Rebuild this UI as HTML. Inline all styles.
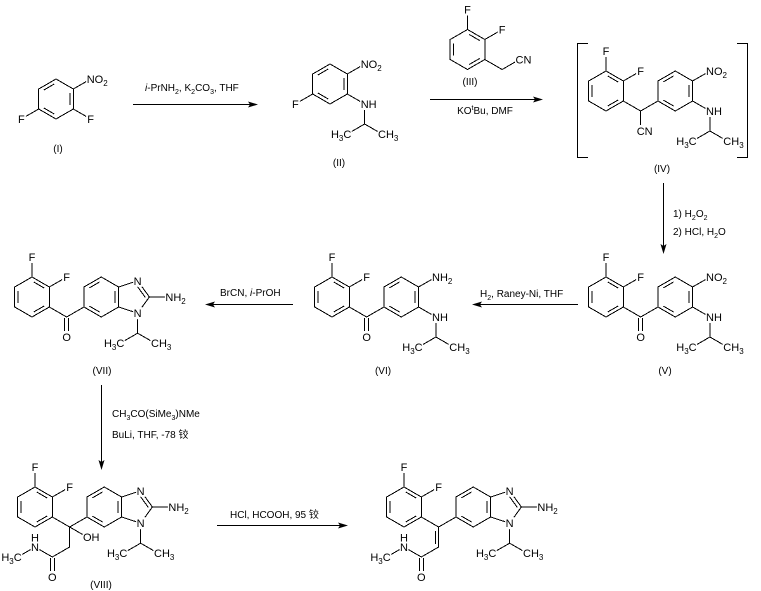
<!DOCTYPE html>
<html><head><meta charset="utf-8">
<style>
html,body{margin:0;padding:0;background:#fff;}
svg{display:block;}
.b{stroke:#000;stroke-width:1;fill:none;shape-rendering:crispEdges;}
.m{fill:#fff;stroke:none;}
.t{font-family:"Liberation Sans","Noto Sans CJK SC",sans-serif;font-size:11px;fill:#000;}
.r{font-family:"Liberation Sans","Noto Sans CJK SC",sans-serif;font-size:10px;fill:#000;}
.c{text-anchor:middle;}
.e{text-anchor:end;}
</style></head>
<body>
<svg width="761" height="591" viewBox="0 0 761 591" xmlns="http://www.w3.org/2000/svg" xmlns:xlink="http://www.w3.org/1999/xlink">
<rect width="761" height="591" fill="#fff"/>
<defs>
<g id="hA" class="b">
<polygon points="0,-20 17.32,-10 17.32,10 0,20 -17.32,10 -17.32,-10"/>
<path d="M-12.13,-9L-1.73,-15M13.86,-6L13.86,6M-1.73,15L-12.13,9"/>
</g>
<g id="hB" class="b">
<polygon points="0,-20 17.32,-10 17.32,10 0,20 -17.32,10 -17.32,-10"/>
<path d="M-13.86,-6L-13.86,6M1.73,-15L12.13,-9M12.13,9L1.73,15"/>
</g>
<g id="bz">
<use xlink:href="#hA"/>
<path class="b" d="M17.32,-10L36.34,-16.18L48.09,0L36.34,16.18L17.32,10M35.86,-10.88L44.08,0.44M48.09,0L68.09,0M36.34,16.18L36.34,36.18L19.02,46.18M36.34,36.18L53.66,46.18"/>
</g>
</defs>

<!-- rings -->
<use xlink:href="#hA" x="56" y="99"/>
<use xlink:href="#hA" x="330" y="84"/>
<use xlink:href="#hB" x="467.5" y="49.5"/>
<use xlink:href="#hB" x="606" y="91"/>
<use xlink:href="#hA" x="675.28" y="91"/>
<use xlink:href="#hB" x="606" y="297"/>
<use xlink:href="#hA" x="675.28" y="297"/>
<use xlink:href="#hB" x="332" y="297"/>
<use xlink:href="#hA" x="401.28" y="297"/>
<use xlink:href="#hB" x="32" y="297"/>
<use xlink:href="#bz" x="101.28" y="297"/>
<use xlink:href="#hB" x="35" y="507"/>
<use xlink:href="#bz" x="104.28" y="507"/>
<use xlink:href="#hB" x="404" y="507"/>
<use xlink:href="#bz" x="473.28" y="507"/>

<!-- bonds -->
<path class="b" d="
M73.32,89L90.64,79M73.32,109L90.64,119M38.68,109L21.36,119
M347.32,74L364.64,64M347.32,94L364.64,104M312.68,94L295.36,104M364.64,104L364.64,124L347.32,134M364.64,124L381.96,134
M467.5,29.5L467.5,9.5M484.82,39.5L502.14,29.5M484.82,59.5L502.14,69.5L519.46,59.5
M606,71L606,51M623.32,81L640.64,71M623.32,101L640.64,111L657.96,101M640.64,111L640.64,131
M692.6,81L709.92,71M692.6,101L709.92,111L709.92,131L692.6,141M709.92,131L727.24,141
M606,277L606,257M623.32,287L640.64,277M623.32,307L640.64,317L657.96,307M638.6,318L638.6,334M642.6,318L642.6,334
M692.6,287L709.92,277M692.6,307L709.92,317L709.92,337L692.6,347M709.92,337L727.24,347
M332,277L332,257M349.32,287L366.64,277M349.32,307L366.64,317L383.96,307M364.6,318L364.6,334M368.6,318L368.6,334
M418.6,287L435.92,277M418.6,307L435.92,317L435.92,337L418.6,347M435.92,337L453.24,347
M32,277L32,257M49.32,287L66.64,277M49.32,307L66.64,317L83.96,307M64.6,318L64.6,334M68.6,318L68.6,334
M35,487L35,467M52.32,497L69.64,487M52.32,517L69.64,527L86.96,517M69.64,527L86.96,537M69.64,527L69.64,547L52.32,557L35,547L17.68,557M50.3,558L50.3,574M54.3,558L54.3,574
M404,487L404,467M421.32,497L438.64,487M421.32,517L438.64,527L455.96,517M438.64,527L438.64,547M435.3,531L435.3,544M438.64,547L421.32,557L404,547L386.68,557M419.3,558L419.3,574M423.3,558L423.3,574
"/>

<!-- brackets -->
<path class="b" d="M588,43.5H577.5V157.5H588M737,43.5H747.5V157.5H737"/>

<!-- arrows -->
<path class="b" d="M133,104.5H250M430,99.5H535M663.5,183V246M480,304.5H578M213,304.5H293M101.5,385V462M217,525.5H340"/>
<polygon points="258,104.5 248,101.5 250,104.5 248,107.5" fill="#000"/>
<polygon points="543,99.5 533,96.5 535,99.5 533,102.5" fill="#000"/>
<polygon points="663.5,254 660.5,244 663.5,246 666.5,244" fill="#000"/>
<polygon points="472,304.5 482,301.5 480,304.5 482,307.5" fill="#000"/>
<polygon points="205,304.5 215,301.5 213,304.5 215,307.5" fill="#000"/>
<polygon points="101.5,470 98.5,460 101.5,462 104.5,460" fill="#000"/>
<polygon points="348,525.5 338,522.5 340,525.5 338,528.5" fill="#000"/>

<!-- label masks -->
<g class="m">
<rect x="86.1" y="73" width="23" height="13"/><rect x="86.1" y="113" width="9" height="12"/><rect x="16.9" y="113" width="9" height="12"/>
<rect x="360.1" y="58" width="23" height="13"/><rect x="360.1" y="98" width="17" height="12"/><rect x="290.9" y="98" width="9" height="12"/><rect x="331.3" y="128" width="20.5" height="13"/><rect x="377.5" y="128" width="20" height="13"/>
<rect x="463" y="3.5" width="9" height="12"/><rect x="497.6" y="23.5" width="9" height="12"/><rect x="515" y="53.5" width="17" height="12"/>
<rect x="601.5" y="45" width="9" height="12"/><rect x="636.1" y="65" width="9" height="12"/><rect x="636.1" y="125" width="17" height="12"/><rect x="705.4" y="65" width="23" height="13"/><rect x="705.4" y="105" width="17" height="12"/><rect x="676.6" y="135" width="20.5" height="13"/><rect x="722.7" y="135" width="20" height="13"/>
<rect x="601.5" y="251" width="9" height="12"/><rect x="636.1" y="271" width="9" height="12"/><rect x="636.1" y="331" width="9" height="12"/><rect x="705.4" y="271" width="23" height="13"/><rect x="705.4" y="311" width="17" height="12"/><rect x="676.6" y="341" width="20.5" height="13"/><rect x="722.7" y="341" width="20" height="13"/>
<rect x="327.5" y="251" width="9" height="12"/><rect x="362.1" y="271" width="9" height="12"/><rect x="362.1" y="331" width="9" height="12"/><rect x="431.4" y="271" width="21" height="13"/><rect x="431.4" y="311" width="17" height="12"/><rect x="402.6" y="341" width="20.5" height="13"/><rect x="448.7" y="341" width="20" height="13"/>
<rect x="27.5" y="251" width="9" height="12"/><rect x="62.1" y="271" width="9" height="12"/><rect x="62.1" y="331" width="9" height="12"/><rect x="133.1" y="274.8" width="9" height="12"/><rect x="133.1" y="307.2" width="9" height="12"/><rect x="164.9" y="291" width="21" height="13"/><rect x="104.3" y="337.2" width="20.5" height="13"/><rect x="150.4" y="337.2" width="20" height="13"/>
<rect x="30.5" y="461" width="9" height="12"/><rect x="65.1" y="481" width="9" height="12"/><rect x="82.5" y="531" width="17" height="12"/><rect x="30.5" y="533" width="9" height="20"/><rect x="47.8" y="571" width="9" height="12"/><rect x="1.7" y="551" width="20.5" height="13"/><rect x="136.1" y="484.8" width="9" height="12"/><rect x="136.1" y="517.2" width="9" height="12"/><rect x="167.9" y="501" width="21" height="13"/><rect x="107.3" y="547.2" width="20.5" height="13"/><rect x="153.4" y="547.2" width="20" height="13"/>
<rect x="399.5" y="461" width="9" height="12"/><rect x="434.1" y="481" width="9" height="12"/><rect x="416.8" y="571" width="9" height="12"/><rect x="399.5" y="533" width="9" height="20"/><rect x="370.7" y="551" width="20.5" height="13"/><rect x="505.1" y="484.8" width="9" height="12"/><rect x="505.1" y="517.2" width="9" height="12"/><rect x="536.9" y="501" width="21" height="13"/><rect x="476.3" y="547.2" width="20.5" height="13"/><rect x="522.4" y="547.2" width="20" height="13"/>
</g>

<!-- atom labels -->
<g class="t">
<text x="86.7" y="83">NO<tspan dy="3" font-size="8">2</tspan></text>
<text class="c" x="90.64" y="123">F</text>
<text class="c" x="21.36" y="123">F</text>
<text x="360.7" y="68">NO<tspan dy="3" font-size="8">2</tspan></text>
<text x="360.7" y="108">NH</text>
<text class="c" x="295.36" y="108">F</text>
<text class="e" x="351.3" y="138">H<tspan dy="3" font-size="8">3</tspan><tspan dy="-3">C</tspan></text>
<text x="378" y="138">CH<tspan dy="3" font-size="8">3</tspan></text>
<text class="c" x="467.5" y="13.5">F</text>
<text class="c" x="502.14" y="33.5">F</text>
<text x="515.5" y="63.5">CN</text>
<text class="c" x="606" y="55">F</text>
<text class="c" x="640.64" y="75">F</text>
<text x="636.7" y="135">CN</text>
<text x="706" y="75">NO<tspan dy="3" font-size="8">2</tspan></text>
<text x="706" y="115">NH</text>
<text class="e" x="696.6" y="145">H<tspan dy="3" font-size="8">3</tspan><tspan dy="-3">C</tspan></text>
<text x="723.3" y="145">CH<tspan dy="3" font-size="8">3</tspan></text>
<text class="c" x="606" y="261">F</text>
<text class="c" x="640.64" y="281">F</text>
<text class="c" x="640.64" y="341">O</text>
<text x="706" y="281">NO<tspan dy="3" font-size="8">2</tspan></text>
<text x="706" y="321">NH</text>
<text class="e" x="696.6" y="351">H<tspan dy="3" font-size="8">3</tspan><tspan dy="-3">C</tspan></text>
<text x="723.3" y="351">CH<tspan dy="3" font-size="8">3</tspan></text>
<text class="c" x="332" y="261">F</text>
<text class="c" x="366.64" y="281">F</text>
<text class="c" x="366.64" y="341">O</text>
<text x="432" y="281">NH<tspan dy="3" font-size="8">2</tspan></text>
<text x="432" y="321">NH</text>
<text class="e" x="422.6" y="351">H<tspan dy="3" font-size="8">3</tspan><tspan dy="-3">C</tspan></text>
<text x="449.3" y="351">CH<tspan dy="3" font-size="8">3</tspan></text>
<text class="c" x="32" y="261">F</text>
<text class="c" x="66.64" y="281">F</text>
<text class="c" x="66.64" y="341">O</text>
<text class="c" x="137.62" y="284.82">N</text>
<text class="c" x="137.62" y="317.18">N</text>
<text x="165.4" y="301">NH<tspan dy="3" font-size="8">2</tspan></text>
<text class="e" x="124.3" y="347.18">H<tspan dy="3" font-size="8">3</tspan><tspan dy="-3">C</tspan></text>
<text x="151" y="347.18">CH<tspan dy="3" font-size="8">3</tspan></text>
<text class="c" x="35" y="471">F</text>
<text class="c" x="69.64" y="491">F</text>
<text x="83" y="541">OH</text>
<text class="c" x="35" y="541.5">H</text>
<text class="c" x="35" y="551">N</text>
<text class="c" x="52.32" y="581">O</text>
<text class="e" x="21.7" y="561">H<tspan dy="3" font-size="8">3</tspan><tspan dy="-3">C</tspan></text>
<text class="c" x="140.62" y="494.82">N</text>
<text class="c" x="140.62" y="527.18">N</text>
<text x="168.4" y="511">NH<tspan dy="3" font-size="8">2</tspan></text>
<text class="e" x="127.3" y="557.18">H<tspan dy="3" font-size="8">3</tspan><tspan dy="-3">C</tspan></text>
<text x="154" y="557.18">CH<tspan dy="3" font-size="8">3</tspan></text>
<text class="c" x="404" y="471">F</text>
<text class="c" x="438.64" y="491">F</text>
<text class="c" x="421.32" y="581">O</text>
<text class="c" x="404" y="541.5">H</text>
<text class="c" x="404" y="551">N</text>
<text class="e" x="390.7" y="561">H<tspan dy="3" font-size="8">3</tspan><tspan dy="-3">C</tspan></text>
<text class="c" x="509.62" y="494.82">N</text>
<text class="c" x="509.62" y="527.18">N</text>
<text x="537.4" y="511">NH<tspan dy="3" font-size="8">2</tspan></text>
<text class="e" x="496.3" y="557.18">H<tspan dy="3" font-size="8">3</tspan><tspan dy="-3">C</tspan></text>
<text x="523" y="557.18">CH<tspan dy="3" font-size="8">3</tspan></text>
</g>

<!-- compound numbers and reagents -->
<g class="r">
<text class="c" x="58" y="152">(I)</text>
<text class="c" x="339" y="166">(II)</text>
<text class="c" x="470" y="85">(III)</text>
<text class="c" x="662" y="172">(IV)</text>
<text class="c" x="665" y="374">(V)</text>
<text class="c" x="383" y="374">(VI)</text>
<text class="c" x="102" y="374">(VII)</text>
<text class="c" x="101" y="588">(VIII)</text>

<text x="145" y="91"><tspan font-style="italic">i</tspan>-PrNH<tspan dy="3" font-size="7">2</tspan><tspan dy="-3">, K</tspan><tspan dy="3" font-size="7">2</tspan><tspan dy="-3">CO</tspan><tspan dy="3" font-size="7">3</tspan><tspan dy="-3">, THF</tspan></text>
<text class="c" x="485" y="114">KO<tspan dy="-4" font-size="7">t</tspan><tspan dy="4">Bu, DMF</tspan></text>
<text x="673" y="217">1) H<tspan dy="3" font-size="7">2</tspan><tspan dy="-3">O</tspan><tspan dy="3" font-size="7">2</tspan></text>
<text x="673" y="235">2) HCl, H<tspan dy="3" font-size="7">2</tspan><tspan dy="-3">O</tspan></text>
<text x="480" y="297">H<tspan dy="3" font-size="7">2</tspan><tspan dy="-3">, Raney-Ni, THF</tspan></text>
<text x="220" y="296">BrCN, <tspan font-style="italic">i</tspan>-PrOH</text>
<text x="112" y="417">CH<tspan dy="3" font-size="7">3</tspan><tspan dy="-3">CO(SiMe</tspan><tspan dy="3" font-size="7">3</tspan><tspan dy="-3">)NMe</tspan></text>
<text x="112" y="438">BuLi, THF, -78 铰</text>
<text x="230" y="518">HCl, HCOOH, 95 铰</text>
</g>
</svg>
</body></html>
